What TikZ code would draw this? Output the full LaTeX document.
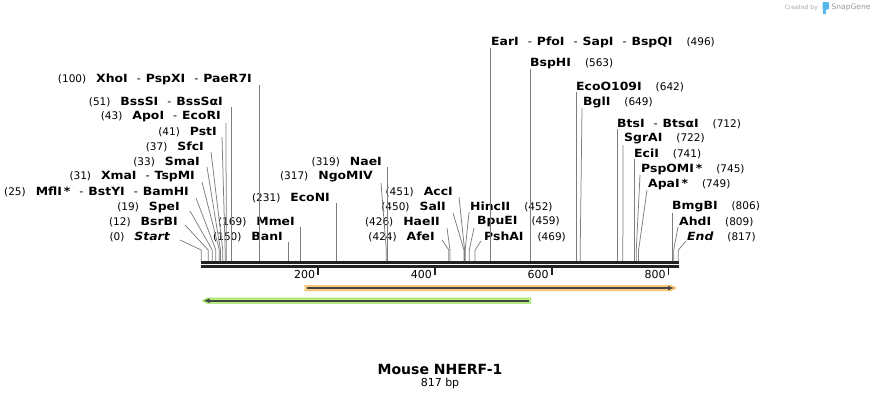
\documentclass[tikz,border=0pt]{standalone}
\usepackage{fontspec}
\setmainfont{DejaVu Sans}
\newfontfamily\enzfont[FakeStretch=1.1]{DejaVu Sans}
\usepackage{xcolor}
\usepackage{tikz}
\usetikzlibrary{arrows.meta}
\definecolor{sitegray}{RGB}{125,125,125}
\definecolor{bardark}{RGB}{34,34,34}
\definecolor{orffill}{RGB}{250,206,130}
\definecolor{orfedge}{RGB}{246,184,86}
\definecolor{grnfill}{RGB}{184,240,126}
\definecolor{grnedge}{RGB}{150,222,92}
\definecolor{arrdark}{RGB}{68,68,68}
\definecolor{logoblue}{RGB}{84,182,236}
\tikzset{cut/.style={draw=sitegray,line width=0.75pt},
	enz left/.style={anchor=east,inner sep=0pt,font=\fontsize{11.3}{13}\selectfont},
	enz right/.style={anchor=west,inner sep=0pt,font=\fontsize{11.3}{13}\selectfont},
	seq bar/.style={draw=bardark,line width=2.5pt},
	ruler tick/.style={draw=bardark,line width=1.8pt},
	ruler label/.style={anchor=east,inner sep=0pt,font=\fontsize{11}{13}\selectfont},
	orf/.style={line width=1.6pt,draw=arrdark}}

\begin{document}
\begin{tikzpicture}[x=1pt,y=-1pt]
	\def\cutpos#1{{\fontsize{10.5}{12}\selectfont(#1)}}
	\def\cutnm#1{{\enzfont\bfseries #1}}
	\def\gap{\hspace{10pt}}
	\def\rgap{\hspace{14pt}}
	\def\sep{\hspace{9pt}-\hspace{5pt}}
	\useasboundingbox (0,0) rectangle (881,400);

	\foreach \p in {0,12,19,25,31,33,37,41,43,51,100,150,169,231,317,319,424,426,450,451,452,459,469,496,563,642,649,712,722,741,745,749,806,809,817}{
		\coordinate (s\p) at ({201.2+0.584*\p},261);
		\coordinate (k\p) at ({201.2+0.584*\p},250);
	}

	\draw[seq bar] (201.2,262.3) -- (678.6,262.3);
	\draw[seq bar] (201.2,266.7) -- (678.6,266.7);
	\foreach \t in {200,400,600,800}{
		\draw[ruler tick] ({201.2+0.584*\t},267.5) -- ++(0,7);
		\node[ruler label] (r\t) at ({198.5+0.584*\t},274) {\t};
	}

	\node[enz left] (Lxhoi) at (252,79) {\cutpos{100}\gap\cutnm{XhoI}\sep\cutnm{PspXI}\sep\cutnm{PaeR7I}};
	\node[enz left] (Lbsssi) at (223,102) {\cutpos{51}\gap\cutnm{BssSI}\sep\cutnm{BssSαI}};
	\node[enz left] (Lapoi) at (221,117) {\cutpos{43}\gap\cutnm{ApoI}\sep\cutnm{EcoRI}};
	\node[enz left] (Lpsti) at (217,132) {\cutpos{41}\gap\cutnm{PstI}};
	\node[enz left] (Lsfci) at (204,147) {\cutpos{37}\gap\cutnm{SfcI}};
	\node[enz left] (Lsmai) at (200,162) {\cutpos{33}\gap\cutnm{SmaI}};
	\node[enz left] (Lxmai) at (195,177) {\cutpos{31}\gap\cutnm{XmaI}\sep\cutnm{TspMI}};
	\node[enz left] (Lmfli) at (189,192) {\cutpos{25}\gap\cutnm{MflI\,*}\sep\cutnm{BstYI}\sep\cutnm{BamHI}};
	\node[enz left] (Lspei) at (180,207) {\cutpos{19}\gap\cutnm{SpeI}};
	\node[enz left] (Lbsrbi) at (178,222) {\cutpos{12}\gap\cutnm{BsrBI}};
	\node[enz left] (Lstart) at (170,237) {\cutpos{0}\gap\cutnm{\itshape Start}};
	\node[enz left] (Lbani) at (283,237) {\cutpos{150}\gap\cutnm{BanI}};
	\node[enz left] (Lmmei) at (295,222) {\cutpos{169}\gap\cutnm{MmeI}};
	\node[enz left] (Lecoi) at (330,198) {\cutpos{231}\gap\cutnm{EcoNI}};
	\node[enz left] (Lngomiv) at (373,177) {\cutpos{317}\gap\cutnm{NgoMIV}};
	\node[enz left] (Lnaei) at (382,162) {\cutpos{319}\gap\cutnm{NaeI}};
	\node[enz left] (Lafei) at (435,237) {\cutpos{424}\gap\cutnm{AfeI}};
	\node[enz left] (Lhaeii) at (440,222) {\cutpos{426}\gap\cutnm{HaeII}};
	\node[enz left] (Lsali) at (446,207) {\cutpos{450}\gap\cutnm{SalI}};
	\node[enz left] (Lacci) at (453,192) {\cutpos{451}\gap\cutnm{AccI}};

	\node[enz right] (Lhincii) at (470,207) {\cutnm{HincII}\rgap\cutpos{452}};
	\node[enz right] (Lbpuei) at (477,222) {\cutnm{BpuEI}\rgap\cutpos{459}};
	\node[enz right] (Lpshai) at (484,237) {\cutnm{PshAI}\rgap\cutpos{469}};
	\node[enz right] (Leari) at (491,42) {\cutnm{EarI}\sep\cutnm{PfoI}\sep\cutnm{SapI}\sep\cutnm{BspQI}\rgap\cutpos{496}};
	\node[enz right] (Lbsphi) at (530,64) {\cutnm{BspHI}\rgap\cutpos{563}};
	\node[enz right] (Lecoo) at (576,87) {\cutnm{EcoO109I}\rgap\cutpos{642}};
	\node[enz right] (Lbgli) at (583,102) {\cutnm{BglI}\rgap\cutpos{649}};
	\node[enz right] (Lbtsi) at (617,124) {\cutnm{BtsI}\sep\cutnm{BtsαI}\rgap\cutpos{712}};
	\node[enz right] (Lsgrai) at (624,139) {\cutnm{SgrAI}\rgap\cutpos{722}};
	\node[enz right] (Lecii) at (634,154) {\cutnm{EciI}\rgap\cutpos{741}};
	\node[enz right] (Lpspomi) at (641,169) {\cutnm{PspOMI\,*}\rgap\cutpos{745}};
	\node[enz right] (Lapai) at (648,184) {\cutnm{ApaI\,*}\rgap\cutpos{749}};
	\node[enz right] (Lbmgbi) at (672,207) {\cutnm{BmgBI}\rgap\cutpos{806}};
	\node[enz right] (Lahdi) at (679,222) {\cutnm{AhdI}\rgap\cutpos{809}};
	\node[enz right] (Lend) at (687,237) {\cutnm{\itshape End}\rgap\cutpos{817}};

	\draw[cut] ([shift={(10pt,-3pt)}]Lstart.east) -- (k0) -- (s0);
	\draw[cut] ([shift={(7pt,-3pt)}]Lbsrbi.east) -- (k12) -- (s12);
	\draw[cut] ([shift={(10pt,-4pt)}]Lspei.east) -- (k19) -- (s19);
	\draw[cut] ([shift={(7pt,-6pt)}]Lmfli.east) -- (k25) -- (s25);
	\draw[cut] ([shift={(7pt,-5pt)}]Lxmai.east) -- (k31) -- (s31);
	\draw[cut] ([shift={(7pt,-5pt)}]Lsmai.east) -- (k33) -- (s33);
	\draw[cut] ([shift={(7pt,-5pt)}]Lsfci.east) -- (k37) -- (s37);
	\draw[cut] ([shift={(5pt,-5pt)}]Lpsti.east) -- (k41) -- (s41);
	\draw[cut] ([shift={(5pt,-6pt)}]Lapoi.east) -- (k43) -- (s43);
	\draw[cut] (s51 |- Lbsssi.south) -- (s51);
	\draw[cut] (s100 |- Lxhoi.south) -- (s100);
	\draw[cut] (s150 |- Lbani.south) -- (s150);
	\draw[cut] (s169 |- Lmmei.south) -- (s169);
	\draw[cut] (s231 |- Lecoi.south) -- (s231);
	\draw[cut] ([shift={(8pt,-6pt)}]Lngomiv.east) -- (k317) -- (s317);
	\draw[cut] (s319 |- Lnaei.south) -- (s319);
	\draw[cut] ([shift={(7pt,-3pt)}]Lafei.east) -- (k424) -- (s424);
	\draw[cut] ([shift={(7pt,-6pt)}]Lhaeii.east) -- (k426) -- (s426);
	\draw[cut] ([shift={(7pt,-6pt)}]Lsali.east) -- (k450) -- (s450);
	\draw[cut] ([shift={(6pt,-5pt)}]Lacci.east) -- (k451) -- (s451);
	\draw[cut] ([shift={(-1pt,-5pt)}]Lhincii.west) -- (k452) -- (s452);
	\draw[cut] ([shift={(-3pt,-6pt)}]Lbpuei.west) -- (k459) -- (s459);
	\draw[cut] ([shift={(-3pt,-4pt)}]Lpshai.west) -- (k469) -- (s469);
	\draw[cut] (s496 |- Leari.south) -- (s496);
	\draw[cut] (s563 |- Lbsphi.south) -- (s563);
	\draw[cut] (s642 |- Lecoo.south) -- (s642);
	\draw[cut] ([shift={(-1pt,-6pt)}]Lbgli.west) -- (k649) -- (s649);
	\draw[cut] (s712 |- Lbtsi.south) -- (s712);
	\draw[cut] ([shift={(-1pt,-6pt)}]Lsgrai.west) -- (k722) -- (s722);
	\draw[cut] (s741 |- Lecii.south) -- (s741);
	\draw[cut] ([shift={(-1pt,-6pt)}]Lpspomi.west) -- (k745) -- (s745);
	\draw[cut] ([shift={(-1pt,-6pt)}]Lapai.west) -- (k749) -- (s749);
	\draw[cut] (s806 |- Lbmgbi.south) -- (s806);
	\draw[cut] ([shift={(-1pt,-5pt)}]Lahdi.west) -- (k809) -- (s809);
	\draw[cut] ([shift={(-1pt,-4pt)}]Lend.west) -- (k817) -- (s817);

	\filldraw[fill=orffill,draw=orfedge,line width=0.6pt] (305,285.3) -- (671,285.3) -- (676,288) -- (671,290.7) -- (305,290.7) -- cycle;
	\draw[orf,-{Latex[length=6pt,width=5pt]}] (307,288) -- (674,288);
	\filldraw[fill=grnfill,draw=grnedge,line width=0.6pt] (530.7,298) -- (207.5,298) -- (202.5,300.7) -- (207.5,303.4) -- (530.7,303.4) -- cycle;
	\draw[orf,-{Latex[length=6pt,width=5pt]}] (528.7,300.7) -- (203.5,300.7);

	\node[font=\bfseries\fontsize{14}{16}\selectfont] (title) at (440,369) {Mouse NHERF-1};
	\node[font=\fontsize{11}{13}\selectfont] (size) at (440,383) {817 bp};

	\node[anchor=east,inner sep=0pt,font=\fontsize{6}{7}\selectfont,text=black!35] (made) at (818,7.5) {Created by};
	\fill[logoblue,rounded corners=1.2pt] (822.5,2) rectangle (829,9.5);
	\fill[logoblue] (822.5,2) rectangle (825.5,13.5);
	\node[anchor=west,inner sep=0pt,font=\fontsize{7.5}{9}\selectfont,text=black!40] (brand) at (831.5,7.5) {SnapGene};
\end{tikzpicture}
\end{document}
